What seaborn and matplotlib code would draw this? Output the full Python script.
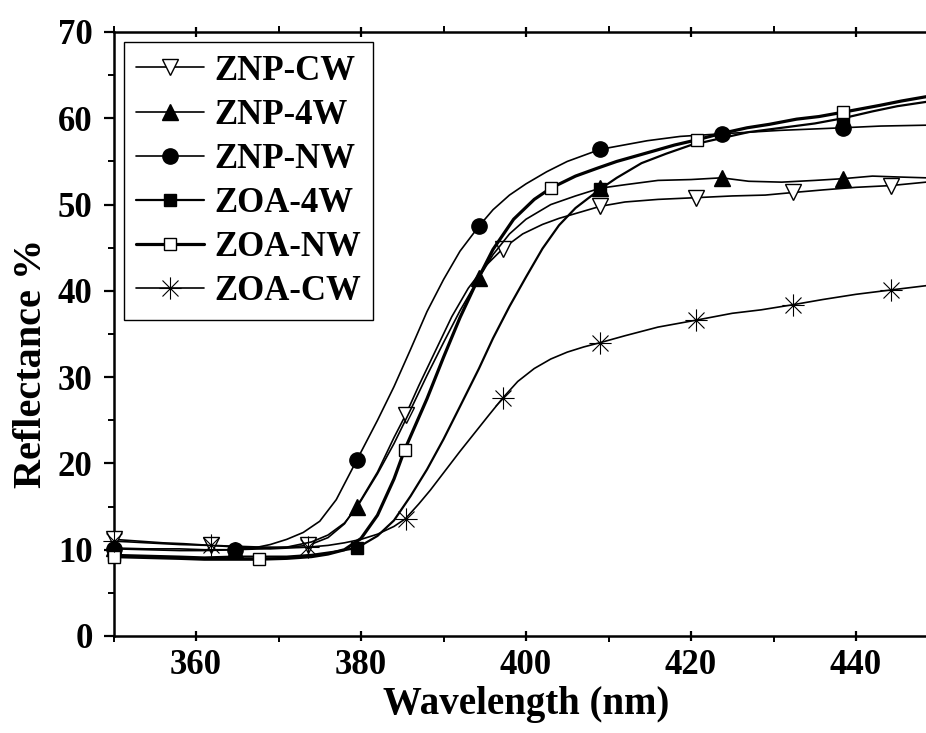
import numpy as np
import pandas as pd
import matplotlib
matplotlib.use("Agg")
import matplotlib.pyplot as plt
from matplotlib.path import Path
import seaborn as sns

# ---------------- data ----------------
znp_cw_x = [350, 353, 356, 358.5, 361.8, 365, 368, 371, 373.6, 376, 378, 380, 382, 384, 385.4,
            387, 389, 391, 393, 395, 397.2, 399.6, 402, 404, 406.5, 409.0, 412, 416, 420.6,
            425, 429, 432.4, 436, 440, 444.2, 448.5]
znp_cw_y = [11.2, 11.0, 10.8, 10.7, 10.5, 10.4, 10.3, 10.3, 10.5, 11.4, 13.0, 15.8, 19.0, 23.0, 25.6,
            29.0, 33.0, 37.0, 40.3, 42.8, 44.9, 46.6, 47.7, 48.4, 49.1, 49.8, 50.3, 50.6, 50.8,
            51.0, 51.1, 51.4, 51.7, 52.0, 52.2, 52.6]
znp_cw_marks = [350, 361.8, 373.6, 385.4, 397.2, 409.0, 420.6, 432.4, 444.2]

znp_4w_x = [350, 354, 358, 361, 364.7, 368, 371, 374, 376, 378, 379.5, 382, 384, 386, 388, 390,
            392, 394.3, 396, 398, 400, 403, 406, 409.0, 412, 416, 420, 423.7, 427, 431, 435,
            438.4, 442, 445, 448.5]
znp_4w_y = [10.2, 10.1, 10.1, 10.0, 10.0, 10.1, 10.3, 10.9, 11.7, 13.1, 14.9, 18.8, 22.3, 26.2, 30.2, 34.0,
            37.7, 41.5, 44.2, 46.6, 48.3, 50.0, 51.0, 51.9, 52.3, 52.8, 52.9, 53.1, 52.7, 52.6, 52.8,
            53.0, 53.3, 53.2, 53.1]
znp_4w_marks = [350, 364.7, 379.5, 394.3, 409.0, 423.7, 438.4]

znp_nw_x = [350, 354, 358, 361, 364.7, 367, 369, 371, 373, 375, 377, 379.5, 382, 384, 386, 388,
            390, 392, 394.3, 396, 398, 400, 402.5, 405, 409.0, 414.7, 418.7, 423.7, 430.8,
            438.4, 443, 448.5]
znp_nw_y = [10.1, 10.0, 9.9, 9.9, 10.0, 10.2, 10.6, 11.2, 12.0, 13.3, 15.8, 20.4, 25.0, 28.9, 33.2, 37.6,
            41.3, 44.6, 47.5, 49.4, 51.1, 52.4, 53.8, 55.0, 56.4, 57.4, 57.9, 58.2, 58.6,
            58.9, 59.1, 59.2]
znp_nw_marks = [350, 364.7, 379.5, 394.3, 409.0, 423.7, 438.4]

zoa_4w_x = [350, 354, 358, 361, 364.7, 368, 371, 374, 377, 379.5, 382, 384, 386, 388, 390, 392,
            394.3, 396, 398, 400, 402, 404, 406, 409.0, 411, 414, 417, 420, 423.7, 427, 431,
            435, 438.4, 442, 445, 448.5]
zoa_4w_y = [9.4, 9.3, 9.2, 9.1, 9.2, 9.2, 9.2, 9.4, 9.8, 10.2, 11.6, 13.4, 16.2, 19.3, 22.8, 26.6,
            31.0, 34.5, 38.2, 41.6, 44.9, 47.6, 49.6, 51.8, 53.1, 54.8, 55.9, 56.9, 57.7, 58.4, 58.9,
            59.4, 60.0, 60.8, 61.4, 61.9]
zoa_4w_marks = [350, 379.5, 409.0, 438.4]

zoa_nw_x = [350, 354, 358, 361, 364, 367.6, 371, 374, 376, 378, 380, 382, 384, 385.3, 388, 390,
            392, 394.4, 396, 398.5, 401, 403.0, 406, 408.6, 411, 414.7, 418, 420.7, 423.5,
            426.8, 429.5, 432.8, 435.5, 438.4, 442.9, 445.5, 448.5]
zoa_nw_y = [9.2, 9.1, 9.0, 8.9, 8.9, 8.9, 9.0, 9.2, 9.5, 10.0, 11.3, 14.0, 18.2, 21.6, 27.5, 32.3,
            36.9, 41.8, 44.8, 48.3, 50.6, 51.9, 53.3, 54.2, 55.0, 56.0, 56.9, 57.5, 58.2,
            58.9, 59.3, 59.9, 60.2, 60.7, 61.5, 62.0, 62.5]
zoa_nw_marks = [350, 367.6, 385.3, 403.0, 420.7, 438.4]

zoa_cw_x = [350, 354, 358, 361.8, 365, 369, 373.6, 376, 378, 380, 382, 384, 385.4, 387, 388.4,
            390, 392, 394, 395.5, 397.2, 399, 401, 403, 405, 407, 409.0, 412, 416, 420.6, 425,
            428.5, 432.4, 436, 440, 444.2, 448.5]
zoa_cw_y = [11.0, 10.8, 10.6, 10.5, 10.3, 10.1, 10.3, 10.5, 10.8, 11.2, 11.8, 12.7, 13.6, 15.3, 16.9,
            18.9, 21.4, 23.8, 25.6, 27.6, 29.5, 31.0, 32.1, 32.9, 33.5, 34.0, 34.8, 35.8, 36.6, 37.4,
            37.8, 38.4, 39.0, 39.6, 40.1, 40.6]
zoa_cw_marks = [350, 361.8, 373.6, 385.4, 397.2, 409.0, 420.6, 432.4, 444.2]

labels = ["ZNP-CW", "ZNP-4W", "ZNP-NW", "ZOA-4W", "ZOA-NW", "ZOA-CW"]
x_ticks = [360, 380, 400, 420, 440]
y_ticks = [0, 10, 20, 30, 40, 50, 60, 70]

# ---------------- style ----------------
sns.set_theme(style="ticks")
plt.rcParams["font.family"] = ["Liberation Serif", "DejaVu Serif"]
plt.rcParams["font.weight"] = "bold"
plt.rcParams["axes.labelweight"] = "bold"
for k in ["text.color", "axes.labelcolor", "xtick.color", "ytick.color",
          "xtick.labelcolor", "ytick.labelcolor", "axes.edgecolor"]:
    plt.rcParams[k] = "black"

star = Path([(-1, 0), (1, 0), (0, -1), (0, 1), (-0.72, -0.72), (0.72, 0.72), (-0.72, 0.72), (0.72, -0.72)],
            [Path.MOVETO, Path.LINETO] * 4)

series = [
    (znp_cw_x, znp_cw_y, znp_cw_marks, dict(marker="v", ms=12, mfc="white", mec="black", mew=1.0, lw=1.2)),
    (znp_4w_x, znp_4w_y, znp_4w_marks, dict(marker="^", ms=12, mfc="black", mec="black", mew=1.0, lw=1.2)),
    (znp_nw_x, znp_nw_y, znp_nw_marks, dict(marker="o", ms=11, mfc="black", mec="black", mew=1.0, lw=1.2)),
    (zoa_4w_x, zoa_4w_y, zoa_4w_marks, dict(marker="s", ms=9, mfc="black", mec="black", mew=1.0, lw=1.6)),
    (zoa_nw_x, zoa_nw_y, zoa_nw_marks, dict(marker="s", ms=9, mfc="white", mec="black", mew=1.0, lw=2.3)),
    (zoa_cw_x, zoa_cw_y, zoa_cw_marks, dict(marker=star, ms=16, mfc="black", mec="black", mew=0.8, lw=1.2)),
]

fig = plt.figure(figsize=(9.26, 7.33), dpi=100)
W, H = 926, 733
ax = fig.add_axes([113.5 / W, (H - 636) / H, 825 / W, 604 / H])

for (xs, ys, marks, st), lab in zip(series, labels):
    xs = np.asarray(xs, float)
    idx = [int(np.argmin(np.abs(xs - m))) for m in marks]
    df = pd.DataFrame({"x": xs, "y": ys})
    sns.lineplot(data=df, x="x", y="y", ax=ax, color="black", label=lab,
                 marker=st["marker"], markersize=st["ms"], markerfacecolor=st["mfc"],
                 mec=st["mec"], mew=st["mew"], linewidth=st["lw"], markevery=idx,
                 sort=False, estimator=None, clip_on=False, zorder=3)

ax.set_xlim(350, 450)
ax.set_ylim(0, 70)
ax.set_xticks(x_ticks)
ax.set_yticks(y_ticks)
ax.set_xticks(np.arange(350, 451, 10), minor=True)
ax.set_yticks(np.arange(5, 70, 10), minor=True)

for s in ax.spines.values():
    s.set_linewidth(1.8)
    s.set_color("black")

ax.tick_params(axis="both", which="major", direction="out", length=7, width=1.6,
               labelsize=25, color="black", labelcolor="black")
ax.tick_params(axis="both", which="minor", direction="out", length=4, width=1.4, color="black")
ax.tick_params(axis="x", which="major", pad=6)
ax.tick_params(axis="y", which="major", pad=8)
ax.tick_params(axis="x", which="both", top=True)
ax.tick_params(axis="x", which="major", top=True, direction="inout")
for t in ax.get_xticklabels() + ax.get_yticklabels():
    t.set_fontweight("bold")
    t.set_color("black")

ax.set_xlabel("Wavelength (nm)", fontsize=28, fontweight="bold", color="black")
ax.set_ylabel("Reflectance %", fontsize=29, fontweight="bold", color="black")
ax.xaxis.set_label_coords(0.5, -0.083, transform=ax.transAxes)
ax.yaxis.set_label_coords(-0.077, 0.452, transform=ax.transAxes)
ax.xaxis.label.set_va("top")

leg = ax.legend(loc="upper left", fontsize=25, frameon=True, fancybox=False,
                edgecolor="black", handlelength=1.95, handletextpad=0.3,
                labelspacing=0.32, borderpad=0.35, borderaxespad=0.3,
                prop={"family": "Liberation Serif", "weight": "bold", "size": 25})
leg.get_frame().set_linewidth(1.0)
leg.get_frame().set_alpha(1)
for t in leg.get_texts():
    t.set_color("black")

fig.savefig("out.png", dpi=100)
